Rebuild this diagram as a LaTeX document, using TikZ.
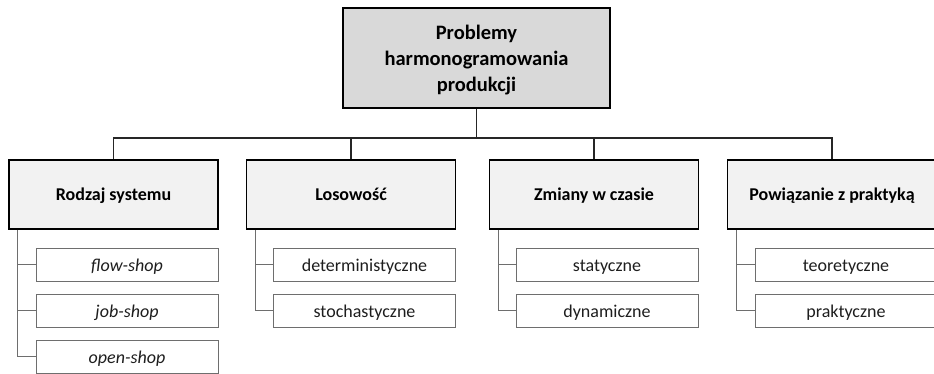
\documentclass[tikz,border=0pt]{standalone}
\usepackage{fontspec}
\setmainfont{Carlito}
\tikzset{
  rootbox/.style={draw=black, line width=1.5pt, fill=rootgray, minimum width=267pt,
    minimum height=100pt, align=center, font=\fontsize{20.5}{26}\selectfont\bfseries,
    inner sep=0pt, text depth=0pt},
  catbox/.style={draw=black, line width=1.5pt, fill=catgray, minimum width=209pt,
    minimum height=69pt, font=\fontsize{18}{22}\selectfont\bfseries, inner sep=0pt,
    text height=11pt, text depth=0pt},
  leafbox/.style={draw=leafedge, line width=1pt, fill=white, minimum width=182pt,
    minimum height=33pt, font=\fontsize{18}{22}\selectfont, text=leaftext, inner sep=0pt,
    text height=14pt, text depth=0pt},
  bus/.style={draw=black!85, line width=1.5pt},
  branch/.style={draw=leafedge, line width=1pt},
}
\definecolor{rootgray}{HTML}{D9D9D9}
\definecolor{catgray}{HTML}{F2F2F2}
\definecolor{leafedge}{HTML}{6E6E6E}
\definecolor{leaftext}{HTML}{1E1E1E}
\begin{document}
\begin{tikzpicture}[x=1pt, y=-1pt]
  \useasboundingbox (0,0) rectangle (934,373);
  \clip (0,0) rectangle (934,373);

  % root of the tree
  \node[rootbox] (root) at (476.5,58) {Problemy\\harmonogramowania\\produkcji};

  % four classification criteria
  \node[catbox] (c1) at (113.5,194.5) {Rodzaj systemu};
  \node[catbox] (c2) at (351,194.5) {Losowość};
  \node[catbox] (c3) at (594,194.5) {Zmiany w czasie};
  \node[catbox] (c4) at (832,194.5) {Powiązanie z praktyką};

  % leaves under each criterion
  \node[leafbox] (l1a) at (127,264.5) {\itshape flow-shop};
  \node[leafbox] (l1b) at (127,310.5) {\itshape job-shop};
  \node[leafbox] (l1c) at (127,356.5) {\itshape open-shop};

  \node[leafbox] (l2a) at (364.5,264.5) {deterministyczne};
  \node[leafbox] (l2b) at (364.5,310.5) {stochastyczne};

  \node[leafbox] (l3a) at (607,264.5) {statyczne};
  \node[leafbox] (l3b) at (607,310.5) {dynamiczne};

  \node[leafbox] (l4a) at (846,264.5) {teoretyczne};
  \node[leafbox] (l4b) at (846,310.5) {praktyczne};

  % horizontal bus linking the root with the criteria
  \coordinate (busy) at (476.5,138);
  \draw[bus] (root.south) -- (root.south |- busy);
  \draw[bus] (c1.north) -- (c1.north |- busy) -| (c4.north);
  \draw[bus] (c2.north) -- (c2.north |- busy);
  \draw[bus] (c3.north) -- (c3.north |- busy);

  % side rails to the leaves
  \coordinate (t1) at ([xshift=9.5pt]c1.south west);
  \coordinate (t2) at ([xshift=9.5pt]c2.south west);
  \coordinate (t3) at ([xshift=9.5pt]c3.south west);
  \coordinate (t4) at ([xshift=9.5pt]c4.south west);
  \draw[branch] (t1) |- (l1a.west);
  \draw[branch] (t1) |- (l1b.west);
  \draw[branch] (t1) |- (l1c.west);
  \draw[branch] (t2) |- (l2a.west);
  \draw[branch] (t2) |- (l2b.west);
  \draw[branch] (t3) |- (l3a.west);
  \draw[branch] (t3) |- (l3b.west);
  \draw[branch] (t4) |- (l4a.west);
  \draw[branch] (t4) |- (l4b.west);
\end{tikzpicture}
\end{document}
